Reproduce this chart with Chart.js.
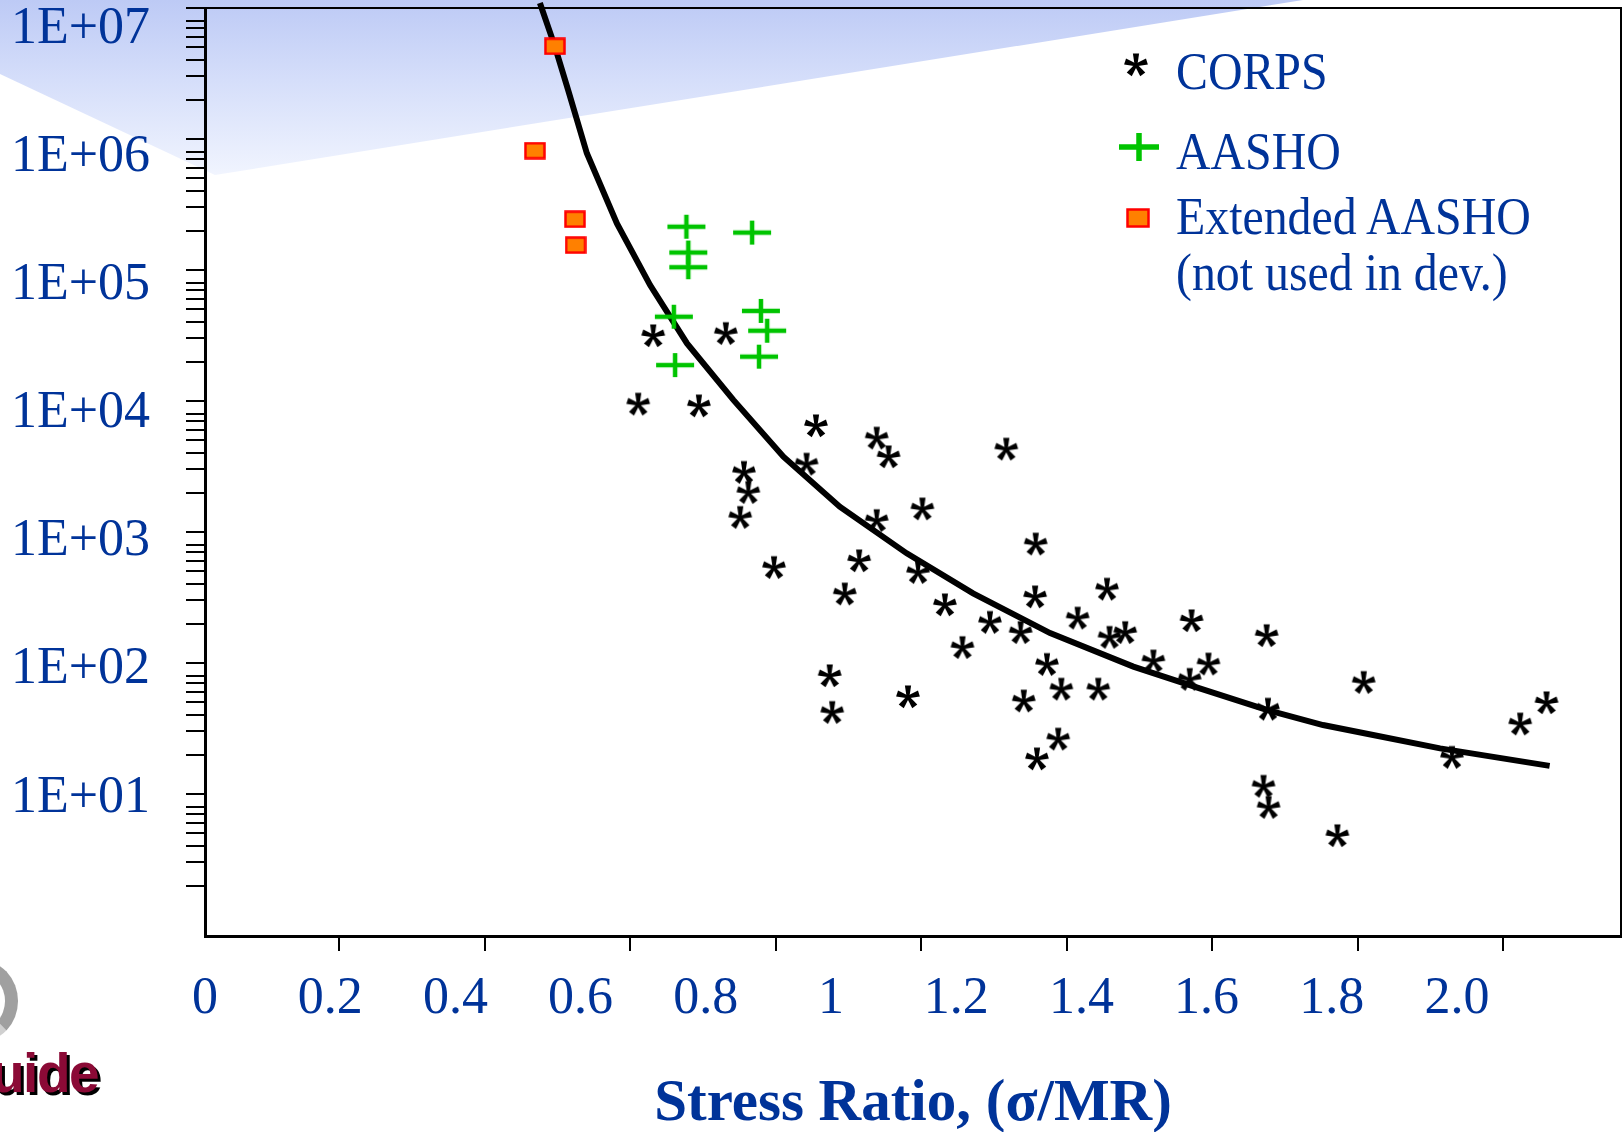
<!DOCTYPE html>
<html>
<head>
<meta charset="utf-8">
<title>Stress Ratio vs Load Repetitions</title>
<script src="https://cdn.jsdelivr.net/npm/chart.js@4.4.1/dist/chart.umd.min.js"></script>
<style>
  html, body { margin: 0; padding: 0; background: #fff; }
  #wrap { position: relative; width: 1624px; height: 1132px; overflow: hidden; background: #fff; }
  #wedge { position: absolute; left: 0; top: 0; width: 1624px; height: 200px;
    background: linear-gradient(to bottom, #bdcaf5 0%, #d5defa 40%, #eff3fe 85%, #ffffff 100%);
    clip-path: polygon(0 0, 1303px 0, 215px 175px, 0 74px); }
  #chart { position: absolute; left: 0; top: 0; }
  .leg { position: absolute; font-family: 'Liberation Serif', 'Times New Roman', serif; font-size: 52px;
    line-height: 52px; color: #003399; white-space: nowrap; transform: scaleX(0.92); transform-origin: left center; }
  .mk { position: absolute; }
  #logoText { position: absolute; left: -9px; top: 1046px; font-family: 'Liberation Sans', Arial, sans-serif;
    font-weight: bold; font-size: 55px; line-height: 55px; letter-spacing: -1.5px; color: #8b0a36;
    text-shadow: 3px 3px 0 #000; }
  #logoArc { position: absolute; left: -58px; top: 960px; width: 50px; height: 56px; border-radius: 50%;
    border: 13px solid #a0a0a0; border-left-color: transparent; border-bottom-color: #d0d0d0; }
</style>
</head>
<body>
<div id="wrap">
  <div id="wedge"></div>
  <div id="logoArc"></div>
  <div id="logoText">uide</div>
  <canvas id="chart" width="1624" height="1132"></canvas>

  <canvas class="mk" id="lgCorps" width="28" height="28" style="left:1122px;top:50px"></canvas>
  <div class="leg" style="left:1176px;top:46px">CORPS</div>
  <canvas class="mk" id="lgAasho" width="42" height="30" style="left:1118px;top:132px"></canvas>
  <div class="leg" style="left:1176px;top:126px">AASHO</div>
  <canvas class="mk" id="lgExt" width="24" height="20" style="left:1126px;top:208px"></canvas>
  <div class="leg" style="left:1176px;top:191px">Extended AASHO</div>
  <div class="leg" style="left:1176px;top:247px">(not used in dev.)</div>
</div>
<script>
// CORPS field data (stress ratio, repetitions)
const corpsX = [0.716, 0.832, 0.692, 0.789, 0.976, 1.073, 1.092, 1.280, 0.961, 0.861,
                0.868, 0.855, 1.146, 1.073, 0.909, 1.045, 1.139, 1.022, 1.182, 1.254,
                1.210, 0.998, 1.002, 1.123, 1.327, 1.326, 1.441, 1.394, 1.303, 1.576,
                1.445, 1.470, 1.696, 1.515, 1.603, 1.573, 1.345, 1.368, 1.427, 1.308,
                1.698, 1.851, 1.363, 1.329, 1.691, 2.101, 2.143, 1.992, 1.699, 1.809];
const corpsY = [31900, 33200, 9600, 9300, 6560, 5280, 3800, 4350, 3340, 2890,
                2030, 1310, 1520, 1240, 543, 611, 498, 341, 282, 207,
                133, 81, 42.5, 56, 820, 324, 371, 223, 173, 213,
                159, 173, 164, 105, 99.5, 76, 98.8, 64, 64, 52,
                45, 72, 26.6, 18.8, 11.6, 34.7, 50.4, 19.3, 8.0, 4.87];

// AASHO road test data
const aashoX = [0.769, 0.874, 0.772, 0.772, 0.749, 0.888, 0.898, 0.885, 0.751];
const aashoY = [214000, 193000, 136000, 105000, 44000, 48700, 34400, 21800, 18800];

// Extended AASHO (not used in development)
const extX = [0.559, 0.527, 0.591, 0.592];
const extY = [5100000, 815000, 244000, 155000];

// fatigue curve
const curveX = [0.535, 0.559, 0.580, 0.610, 0.658, 0.711, 0.770, 0.844, 0.924, 1.014,
                1.121, 1.227, 1.350, 1.483, 1.589, 1.696, 1.786, 1.866, 1.973, 2.148];
const curveY = [10900000, 5070000, 2370000, 778000, 227000, 76700, 27500, 10200, 3760, 1560,
                687, 340, 169, 93.8, 64, 43.8, 33.6, 28.2, 22.3, 16.4];

// axis labels and tick marks
const xTickLabels = ['0', '0.2', '0.4', '0.6', '0.8', '1', '1.2', '1.4', '1.6', '1.8', '2.0'];
const xTickLabelValues = [0, 0.2, 0.4, 0.6, 0.8, 1.0, 1.2, 1.4, 1.6, 1.8, 2.0];
const xTickMarks = [0.2, 0.4, 0.6, 0.8, 1.0, 1.2, 1.4, 1.6, 1.8];
const yTickLabels = ['1E+01', '1E+02', '1E+03', '1E+04', '1E+05', '1E+06', '1E+07'];
const yTickLabelValues = [1e1, 1e2, 1e3, 1e4, 1e5, 1e6, 1e7];
const yMinorMantissas = [2, 3, 4, 5, 6, 7, 8, 10];

const BLUE = '#003399';
const SERIF = "'Liberation Serif', 'Times New Roman', serif";

function drawAsterisk(c) {
  const g = c.getContext('2d');
  g.fillStyle = '#000';
  g.translate(c.width / 2, c.height / 2 + 1);
  for (let i = 0; i < 5; i++) {
    const a = i * 2 * Math.PI / 5;
    const dx = Math.sin(a), dy = -Math.cos(a);
    const px = Math.cos(a), py = Math.sin(a);
    const L = 11.5, w0 = 2.8, w1 = 6.2;
    g.beginPath();
    g.moveTo(px * w0 / 2, py * w0 / 2);
    g.lineTo(dx * L + px * w1 / 2, dy * L + py * w1 / 2);
    g.lineTo(dx * L - px * w1 / 2, dy * L - py * w1 / 2);
    g.lineTo(-px * w0 / 2, -py * w0 / 2);
    g.closePath();
    g.fill();
  }
  return c;
}
function drawCross(c, lw) {
  const g = c.getContext('2d');
  g.strokeStyle = '#00c400';
  g.lineWidth = lw;
  g.beginPath();
  g.moveTo(1, c.height / 2); g.lineTo(c.width - 1, c.height / 2);
  g.moveTo(c.width / 2, 1); g.lineTo(c.width / 2, c.height - 1);
  g.stroke();
  return c;
}
function drawSquare(c) {
  const g = c.getContext('2d');
  g.fillStyle = '#ff8000';
  g.strokeStyle = '#ff0000';
  g.lineWidth = 2.5;
  g.fillRect(1.5, 1.5, c.width - 3, c.height - 3);
  g.strokeRect(1.5, 1.5, c.width - 3, c.height - 3);
  return c;
}
function sprite(w, h) {
  const c = document.createElement('canvas');
  c.width = w; c.height = h;
  return c;
}

const asteriskImg = drawAsterisk(sprite(28, 28));
const crossImg = drawCross(sprite(40, 26), 4.5);
const squareImg = drawSquare(sprite(22, 18));

drawAsterisk(document.getElementById('lgCorps'));
drawCross(document.getElementById('lgAasho'), 5.5);
drawSquare(document.getElementById('lgExt'));

function pts(xs, ys) {
  return xs.map((x, i) => ({ x: x, y: ys[i] }));
}

const framePlugin = {
  id: 'frame',
  beforeDatasetsDraw(chart) {
    const a = chart.chartArea, ctx = chart.ctx;
    ctx.save();
    ctx.strokeStyle = '#000';
    ctx.lineWidth = 2;
    ctx.beginPath();
    ctx.moveTo(a.left, a.top);
    ctx.lineTo(a.right, a.top);
    ctx.lineTo(a.right, a.bottom);
    ctx.stroke();
    ctx.restore();
  }
};

function noPad(a) {
  a.paddingLeft = 0; a.paddingRight = 0; a.paddingTop = 0; a.paddingBottom = 0;
}

new Chart(document.getElementById('chart'), {
  type: 'scatter',
  data: {
    datasets: [
      { label: 'Extended AASHO', data: pts(extX, extY), pointStyle: squareImg, pointRadius: 10, order: 1 },
      { label: 'AASHO', data: pts(aashoX, aashoY), pointStyle: crossImg, pointRadius: 12, order: 2 },
      { label: 'CORPS', data: pts(corpsX, corpsY), pointStyle: asteriskImg, pointRadius: 10, order: 3 },
      { label: 'curve', data: pts(curveX, curveY), showLine: true, borderColor: '#000', borderWidth: 6,
        pointRadius: 0, tension: 0, clip: false, order: 10 }
    ]
  },
  options: {
    responsive: false,
    animation: false,
    devicePixelRatio: 1,
    layout: { autoPadding: false, padding: { left: 0, top: 8, right: 3, bottom: 0 } },
    plugins: { legend: { display: false }, tooltip: { enabled: false } },
    scales: {
      x: {
        type: 'linear', position: 'bottom', weight: 1, min: 0, max: 2.262,
        afterBuildTicks: a => { a.ticks = xTickLabelValues.map(v => ({ value: v })); },
        afterFit: a => { a.height = 181; noPad(a); },
        grid: { display: false, drawTicks: false },
        border: { display: false },
        ticks: { autoSkip: false, maxRotation: 0, padding: 22, color: BLUE,
                 font: { family: SERIF, size: 52, lineHeight: 1 },
                 callback: (v, i) => xTickLabels[i] },
        title: { display: true, text: 'Stress Ratio, (σ/MR)', color: BLUE,
                 font: { family: SERIF, size: 59, weight: 'bold', lineHeight: 0.85 },
                 padding: { top: 0, bottom: 2 } }
      },
      x2: {
        type: 'linear', position: 'bottom', weight: 0, min: 0.0158, max: 1.962,
        afterBuildTicks: a => { a.ticks = xTickMarks.map(v => ({ value: v })); },
        afterFit: a => { a.height = 15; noPad(a); },
        grid: { display: true, drawOnChartArea: false, drawTicks: true, tickLength: 15, color: '#000', lineWidth: 2 },
        border: { display: true, color: '#000', width: 3 },
        ticks: { display: false }
      },
      y: {
        type: 'logarithmic', position: 'left', weight: 0, min: 0.824, max: 1e7,
        afterBuildTicks: a => {
          const t = [];
          for (let e = 0; e < 7; e++) {
            yMinorMantissas.forEach(m => t.push({ value: m * Math.pow(10, e) }));
          }
          a.ticks = t;
        },
        afterFit: a => { a.width = 19; noPad(a); },
        grid: { display: true, drawOnChartArea: false, drawTicks: true, tickLength: 19, color: '#000', lineWidth: 2 },
        border: { display: true, color: '#000', width: 3 },
        ticks: { display: false }
      },
      y2: {
        type: 'logarithmic', position: 'left', weight: 1, min: 0.838, max: 1.458e7,
        afterBuildTicks: a => { a.ticks = yTickLabelValues.map(v => ({ value: v })); },
        afterFit: a => { a.width = 186; noPad(a); },
        grid: { display: false, drawTicks: false },
        border: { display: false },
        ticks: { autoSkip: false, padding: 36, color: BLUE,
                 font: { family: SERIF, size: 52, lineHeight: 1 },
                 callback: (v, i) => yTickLabels[i] }
      }
    }
  },
  plugins: [framePlugin]
});
</script>
</body>
</html>
